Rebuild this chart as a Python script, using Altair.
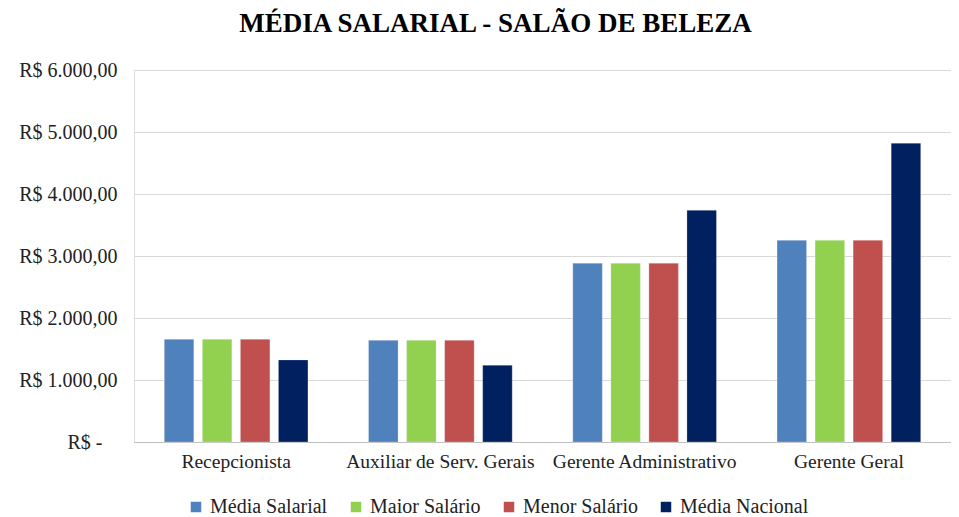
import altair as alt
import pandas as pd

categories = ["Recepcionista", "Auxiliar de Serv. Gerais", "Gerente Administrativo", "Gerente Geral"]
series = ["Média Salarial", "Maior Salário", "Menor Salário", "Média Nacional"]
media_salarial = [1657, 1640, 2885, 3253]
maior_salario = [1657, 1640, 2885, 3253]
menor_salario = [1657, 1640, 2885, 3253]
media_nacional = [1324, 1239, 3737, 4820]
colors = ["#4F81BD", "#92D050", "#C0504D", "#002060"]

rows = []
for i, c in enumerate(categories):
    for s, vals in zip(series, [media_salarial, maior_salario, menor_salario, media_nacional]):
        rows.append({"cargo": c, "serie": s, "valor": vals[i]})
df = pd.DataFrame(rows)

FONT = "Liberation Serif"

label_expr = ("datum.value == 0 ? 'R$ -' : 'R$ ' + "
              "replace(replace(replace(format(datum.value, ',.2f'), ',', '_'), '.', ','), '_', '.')")

chart = alt.Chart(df).mark_bar(stroke="white", strokeOpacity=0.5, strokeWidth=0.5).encode(
    x=alt.X("cargo:N", sort=categories, title=None,
            scale=alt.Scale(paddingInner=0, paddingOuter=0),
            axis=alt.Axis(labelAngle=0, labelFont=FONT, labelFontSize=19.5, labelColor="#222222",
                          labelPadding=10, labelLimit=0, ticks=False, domain=True,
                          domainColor="#bfbfbf", domainWidth=1.2, grid=False)),
    xOffset=alt.XOffset("serie:N", sort=series,
                        scale=alt.Scale(paddingInner=0.224, paddingOuter=0.796)),
    y=alt.Y("valor:Q", title=None,
            scale=alt.Scale(domain=[0, 6000], nice=False),
            axis=alt.Axis(values=[0, 1000, 2000, 3000, 4000, 5000, 6000], labelExpr=label_expr,
                          labelFont=FONT, labelFontSize=20, labelColor="#222222",
                          labelPadding={"condition": {"test": "datum.value == 0", "value": 32},
                                        "value": 17},
                          ticks=False, domain=False, grid=True, gridColor="#d9d9d9", gridWidth=1)),
    color=alt.Color("serie:N", sort=series,
                    scale=alt.Scale(domain=series, range=colors),
                    legend=alt.Legend(title=None, orient="none", direction="horizontal",
                                      legendX=52, legendY=427, symbolType="square", symbolSize=110,
                                      symbolStrokeWidth=0, labelFont=FONT, labelFontSize=20,
                                      labelLimit=0, labelColor="#222222", columnPadding=18,
                                      labelOffset=4)),
).properties(
    width=817,
    height=372,
    autosize=alt.AutoSizeParams(type="none"),
    padding={"left": 126, "top": 62, "right": 0, "bottom": 75},
    title=alt.TitleParams("MÉDIA SALARIAL - SALÃO DE BELEZA", font=FONT, fontSize=27,
                          fontWeight="bold", color="#000000", anchor="middle", dx=-47, offset=22),
).configure_view(stroke=None).configure(background="white")

chart.save("out.html", embed_options={"renderer": "svg", "actions": False})
